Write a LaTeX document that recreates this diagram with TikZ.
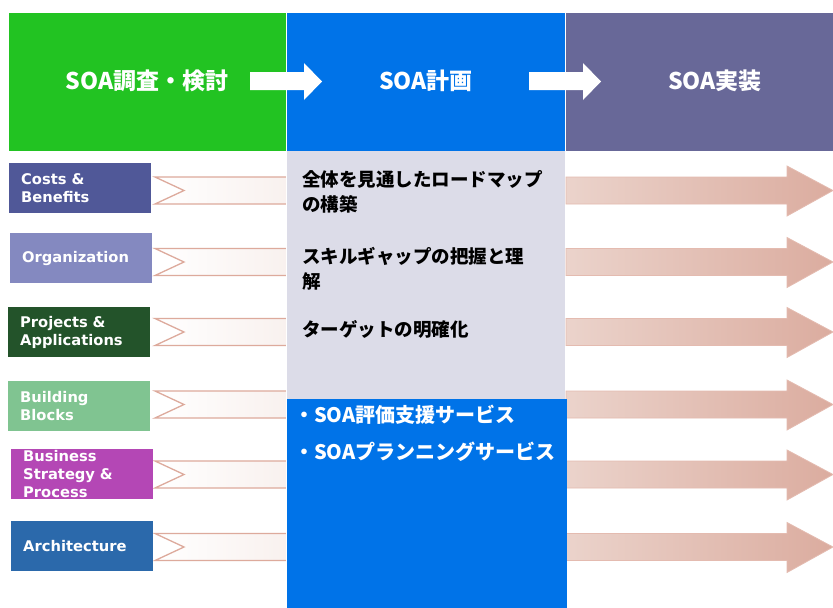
\documentclass[tikz,border=0pt]{standalone}
\usepackage{fontspec}
\setmainfont{DejaVu Sans}
\newfontfamily\cjk{Noto Sans CJK JP}
\definecolor{hgreen}{HTML}{22C322}
\definecolor{hblue}{HTML}{0073E8}
\definecolor{hpurple}{HTML}{686898}
\definecolor{pgray}{HTML}{DCDCE8}
\definecolor{cA}{HTML}{505898}
\definecolor{cB}{HTML}{8489C0}
\definecolor{cC}{HTML}{23532A}
\definecolor{cD}{HTML}{80C491}
\definecolor{cE}{HTML}{B447B5}
\definecolor{cF}{HTML}{2B69AB}
\definecolor{arrL}{HTML}{EBD3CB}
\definecolor{arrR}{HTML}{DBAC9F}
\definecolor{arrEdge}{HTML}{DDAA9C}
\begin{document}
\begin{tikzpicture}[x=1pt,y=-1pt,
  hdr/.style={draw=white,line width=0.8pt},
  hdrtext/.style={text=white,font=\cjk\bfseries\fontsize{23}{26}\selectfont,inner sep=0pt},
  leftbox/.style={anchor=north west,minimum width=142pt,minimum height=50pt,inner xsep=12pt,inner ysep=0pt,
     text width=118pt,align=left,text=white,font=\bfseries\fontsize{14.7}{18}\selectfont},
  graytext/.style={anchor=base west,inner sep=0pt,font=\cjk\bfseries\fontsize{18.5}{25}\selectfont,text=black},
  bluetext/.style={anchor=base west,inner sep=0pt,font=\cjk\bfseries\fontsize{20}{25}\selectfont,text=white},
  tailband/.style={draw=arrEdge,line width=1.3pt,left color=white,right color=arrL!35},
  bigarrow/.style={draw=arrEdge!80,line width=0.8pt,left color=arrL,right color=arrR},
  harrow/.style={fill=white}
]
\useasboundingbox (0,0) rectangle (833,608);
\fill[white] (0,0) rectangle (833,608);

% header blocks
\path[hdr,fill=hgreen] (8,12) rectangle (286,151);
\path[hdr,fill=hblue] (286,12) rectangle (565,151);
\path[hdr,fill=hpurple] (565,12) rectangle (833,151);
\node[hdrtext] (h1) at (147,81) {SOA調査・検討};
\node[hdrtext] (h2) at (426,81) {SOA計画};
\node[hdrtext] (h3) at (715,81) {SOA実装};
% header arrows
\fill[harrow] (250,72) -- (304,72) -- (304,63) -- (322,81.5) -- (304,100) -- (304,90) -- (250,90) -- cycle;
\fill[harrow] (529,72) -- (583,72) -- (583,63) -- (601,81.5) -- (583,100) -- (583,90) -- (529,90) -- cycle;

% tails and big arrows per row
\foreach \yc in {190.5,262,332,404.5,474.5,547}{
  \path[tailband] (155,\yc-13.5) -- (300,\yc-13.5) -- (300,\yc+13.5) -- (155,\yc+13.5) -- (184,\yc) -- cycle;
  \path[bigarrow] (566,\yc-13.5) -- (787,\yc-13.5) -- (787,\yc-24.5) -- (833,\yc) -- (787,\yc+25.5) -- (787,\yc+13.5) -- (566,\yc+13.5) -- cycle;
}

% middle panels
\fill[pgray] (286,151) rectangle (565,399);
\fill[hblue] (286,399) rectangle (567,608);
\draw[white,line width=0.8pt] (286,151) -- (286,608);

% left boxes
\node[leftbox,fill=cA] (b1) at (9,163) {Costs \&\\Benefits};
\node[leftbox,fill=cB] (b2) at (10,233) {Organization};
\node[leftbox,fill=cC] (b3) at (8,307) {Projects \&\\Applications};
\node[leftbox,fill=cD] (b4) at (8,381) {Building\\Blocks};
\node[leftbox,fill=cE] (b5) at (11,449) {Business\\Strategy \&\\Process};
\node[leftbox,fill=cF] (b6) at (11,521) {Architecture};

% gray panel texts
\node[graytext] (g1a) at (302,186) {全体を見通したロードマップ};
\node[graytext] (g1b) at (302,211) {の構築};
\node[graytext] (g2a) at (302,263) {スキルギャップの把握と理};
\node[graytext] (g2b) at (302,288) {解};
\node[graytext] (g3) at (302,336) {ターゲットの明確化};

% blue panel texts
\node[bluetext] (s1) at (294,422) {・SOA評価支援サービス};
\node[bluetext] (s2) at (294,459) {・SOAプランニングサービス};
\end{tikzpicture}
\end{document}
